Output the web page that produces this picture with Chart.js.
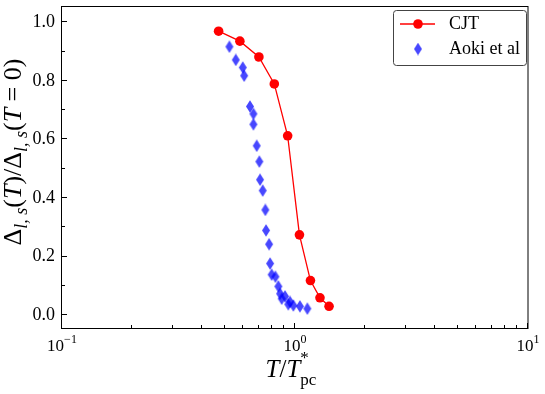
<!DOCTYPE html>
<html>
<head>
<meta charset="utf-8">
<script src="https://cdn.jsdelivr.net/npm/chart.js@4.4.0/dist/chart.umd.min.js"></script>
<style>
  body { margin: 0; background: #fff; }
  canvas { display: block; }
</style>
</head>
<body>
<canvas id="chart" width="545" height="394"></canvas>
<script>
// CJT curve
var cjtX = [0.47, 0.58, 0.70, 0.815, 0.93, 1.045, 1.165, 1.28, 1.40];
var cjtY = [0.966, 0.932, 0.878, 0.786, 0.609, 0.271, 0.115, 0.056, 0.027];

// Aoki et al points
var aokiX = [0.523, 0.557, 0.597, 0.605, 0.641, 0.663, 0.663, 0.685, 0.703, 0.708, 0.727, 0.746, 0.751,
             0.774, 0.782, 0.794, 0.824, 0.848, 0.863, 0.877, 0.906, 0.936, 0.952, 0.984, 1.05, 1.13];
var aokiY = [0.913, 0.868, 0.842, 0.814, 0.709, 0.684, 0.648, 0.575, 0.521, 0.459, 0.422, 0.356, 0.286,
             0.239, 0.173, 0.135, 0.128, 0.095, 0.070, 0.053, 0.061, 0.034, 0.042, 0.030, 0.027, 0.019];

var seriesLabels = ['CJT', 'Aoki et al'];

// axes
var xMajorTicks = [0.1, 1, 10];
var xTickBase = '10';
var xTickExponents = ['\u22121', '0', '1'];
var yMajorTicks = [0.0, 0.2, 0.4, 0.6, 0.8, 1.0];
var yMinorTicks = [0.1, 0.3, 0.5, 0.7, 0.9];

var serif = '"Liberation Serif", "DejaVu Serif", serif';

function toPoints(xs, ys) {
  return xs.map(function (x, i) { return { x: x, y: ys[i] }; });
}

// thin diamond marker, like matplotlib 'd'
function makeDiamond() {
  var c = document.createElement('canvas');
  c.width = 10; c.height = 13;
  var g = c.getContext('2d');
  g.fillStyle = 'rgba(0,0,255,0.72)';
  g.beginPath();
  g.moveTo(5, 0.3);
  g.lineTo(9, 6.5);
  g.lineTo(5, 12.7);
  g.lineTo(1, 6.5);
  g.closePath();
  g.fill();
  return c;
}
var diamond = makeDiamond();

// draws a run of text pieces; each piece {t, font, dy}, pieces with stack:true share x with the previous one
function richWidth(ctx, parts) {
  var w = 0, last = 0;
  parts.forEach(function (p) {
    ctx.font = p.font;
    var pw = ctx.measureText(p.t).width;
    if (p.stack) { w += Math.max(0, pw - last); last = Math.max(pw, last); }
    else { w += pw; last = pw; }
  });
  return w;
}
function drawRich(ctx, parts, cx, baseY) {
  var x = cx - richWidth(ctx, parts) / 2;
  var prevX = x, last = 0;
  parts.forEach(function (p) {
    ctx.font = p.font;
    var pw = ctx.measureText(p.t).width;
    if (p.stack) {
      ctx.fillText(p.t, prevX, baseY + (p.dy || 0));
      x = prevX + Math.max(pw, last);
    } else {
      ctx.fillText(p.t, x, baseY + (p.dy || 0));
      prevX = x; last = pw;
      x += pw;
    }
  });
}

var axesDecor = {
  id: 'axesDecor',
  afterDraw: function (chart) {
    var ctx = chart.ctx, a = chart.chartArea;
    var xs = chart.scales.x, ys = chart.scales.y;
    ctx.save();
    ctx.strokeStyle = '#000';
    ctx.lineWidth = 1;
    ctx.strokeRect(a.left - 0.5, a.top + 0.5, a.right - a.left + 0.5, a.bottom - a.top);

    // inward ticks
    ctx.beginPath();
    xMajorTicks.forEach(function (v) {
      var px = Math.round(xs.getPixelForValue(v)) - 0.5;
      ctx.moveTo(px, a.bottom); ctx.lineTo(px, a.bottom - 5);
    });
    [0.1, 1].forEach(function (d) {
      for (var k = 2; k <= 9; k++) {
        var px = Math.round(xs.getPixelForValue(k * d)) - 0.5;
        ctx.moveTo(px, a.bottom); ctx.lineTo(px, a.bottom - 3);
      }
    });
    yMajorTicks.forEach(function (v) {
      var py = Math.round(ys.getPixelForValue(v)) + 0.5;
      ctx.moveTo(a.left, py); ctx.lineTo(a.left + 5, py);
    });
    yMinorTicks.forEach(function (v) {
      var py = Math.round(ys.getPixelForValue(v)) + 0.5;
      ctx.moveTo(a.left, py); ctx.lineTo(a.left + 3, py);
    });
    ctx.stroke();

    ctx.fillStyle = '#000';

    // y tick labels
    ctx.font = '18px ' + serif;
    ctx.textAlign = 'right';
    ctx.textBaseline = 'middle';
    yMajorTicks.forEach(function (v) {
      ctx.fillText(v.toFixed(1), a.left - 7, ys.getPixelForValue(v) + 1);
    });

    ctx.textBaseline = 'alphabetic';
    ctx.textAlign = 'left';

    // x tick labels 10^n
    xMajorTicks.forEach(function (v, i) {
      drawRich(ctx, [
        { t: xTickBase, font: '17px ' + serif },
        { t: xTickExponents[i], font: '12px ' + serif, dy: -8 }
      ], xs.getPixelForValue(v), a.bottom + 23);
    });

    // x title  T/T*_pc
    var it = 'italic 25px ' + serif, rm = '25px ' + serif, sm = '17px ' + serif;
    drawRich(ctx, [
      { t: 'T', font: it },
      { t: '/', font: rm },
      { t: 'T', font: it },
      { t: '*', font: sm, dy: -14 },
      { t: 'pc', font: sm, dy: 8, stack: true }
    ], (a.left + a.right) / 2 - 4, a.bottom + 49);

    // y title
    ctx.save();
    ctx.translate(21, 152);
    ctx.rotate(-Math.PI / 2);
    var yit = 'italic 26px ' + serif, yrm = '26px ' + serif, ism = 'italic 18px ' + serif;
    drawRich(ctx, [
      { t: '\u0394', font: yrm },
      { t: 'l, s', font: ism, dy: 6 },
      { t: '(', font: yrm },
      { t: 'T', font: yit },
      { t: ')/', font: yrm },
      { t: '\u0394', font: yrm },
      { t: 'l, s', font: ism, dy: 6 },
      { t: '(', font: yrm },
      { t: 'T', font: yit },
      { t: ' = 0)', font: yrm }
    ], 0, 0);
    ctx.restore();

    // legend
    var lx = a.right - 135, ly = a.top + 4, lw = 133, lh = 55;
    ctx.beginPath();
    ctx.roundRect(lx + 0.5, ly + 0.5, lw, lh, 3);
    ctx.fillStyle = 'rgba(255,255,255,0.85)';
    ctx.fill();
    ctx.strokeStyle = '#444';
    ctx.stroke();

    var cj = chart.data.datasets[0];
    ctx.strokeStyle = cj.borderColor;
    ctx.lineWidth = cj.borderWidth;
    ctx.beginPath();
    ctx.moveTo(lx + 7, ly + 14); ctx.lineTo(lx + 42, ly + 14);
    ctx.stroke();
    ctx.fillStyle = cj.pointBackgroundColor;
    ctx.beginPath();
    ctx.arc(lx + 25, ly + 14, cj.pointRadius, 0, Math.PI * 2);
    ctx.fill();
    ctx.drawImage(diamond, lx + 25 - diamond.width / 2, ly + 39 - diamond.height / 2);

    ctx.fillStyle = '#000';
    ctx.font = '18px ' + serif;
    ctx.textBaseline = 'middle';
    ctx.fillText(chart.data.datasets[0].label, lx + 56, ly + 14);
    ctx.fillText(chart.data.datasets[1].label, lx + 56, ly + 39);
    ctx.restore();
  }
};

new Chart(document.getElementById('chart'), {
  type: 'scatter',
  data: {
    datasets: [{
      label: seriesLabels[0],
      data: toPoints(cjtX, cjtY),
      showLine: true,
      borderColor: 'red',
      borderWidth: 1.3,
      pointBackgroundColor: 'red',
      pointBorderColor: 'red',
      pointBorderWidth: 0,
      pointRadius: 4.8
    }, {
      label: seriesLabels[1],
      data: toPoints(aokiX, aokiY),
      showLine: false,
      pointStyle: diamond,
      pointRadius: 5
    }]
  },
  options: {
    responsive: false,
    animation: false,
    devicePixelRatio: 1,
    layout: { padding: { top: 3, right: 17, left: 0, bottom: 0 } },
    plugins: { legend: { display: false }, tooltip: { enabled: false } },
    scales: {
      x: {
        type: 'logarithmic',
        min: 0.1,
        max: 10,
        grid: { display: false, drawTicks: false },
        border: { display: false },
        ticks: { display: false },
        afterBuildTicks: function (s) { s.ticks = xMajorTicks.map(function (v) { return { value: v }; }); },
        afterFit: function (s) { s.height = 66; }
      },
      y: {
        min: -0.047,
        max: 1.052,
        grid: { display: false, drawTicks: false },
        border: { display: false },
        ticks: { display: false },
        afterBuildTicks: function (s) { s.ticks = yMajorTicks.map(function (v) { return { value: v }; }); },
        afterFit: function (s) { s.width = 62; }
      }
    }
  },
  plugins: [axesDecor]
});
</script>
</body>
</html>
